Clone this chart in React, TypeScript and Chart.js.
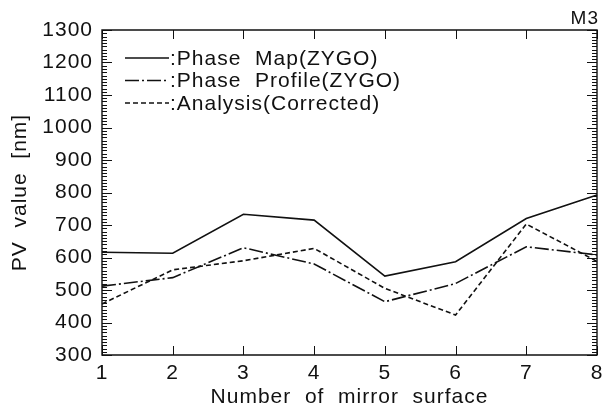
import React, { useEffect, useRef } from "react";
import { Chart, registerables } from "chart.js";

Chart.register(...registerables);

const surfaces = ["1", "2", "3", "4", "5", "6", "7", "8"];
const phaseMap = [616, 613, 733, 715, 543, 587, 720, 792];
const phaseProfile = [512, 538, 630, 580, 464, 520, 633, 608];
const analysis = [457, 562, 590, 628, 505, 423, 703, 588];
const seriesNames = [":Phase  Map(ZYGO)", ":Phase  Profile(ZYGO)", ":Analysis(Corrected)"];
const yMin = 300;
const yMax = 1300;
const panelTag = "M3";

const FONT = "'Liberation Sans', Arial, Helvetica, sans-serif";
const INK = "#111";

// Slightly tracked lettering for every text on the canvas
const spacingPlugin = {
  id: "spacing",
  beforeDraw(chart: any) {
    chart.ctx.letterSpacing = "1px";
  },
};

// Inward ticks on all four sides, legend and panel tag
const framePlugin = {
  id: "frame",
  afterDraw(chart: any) {
    const { ctx, chartArea: a, scales } = chart;
    const x = scales.x;
    const y = scales.y;
    ctx.save();
    ctx.strokeStyle = INK;
    ctx.lineWidth = 1.4;
    ctx.beginPath();
    ctx.rect(a.left, a.top, a.right - a.left, a.bottom - a.top);
    ctx.stroke();

    ctx.lineWidth = 1;
    ctx.beginPath();
    for (let v = yMin; v <= yMax; v += 10) {
      const py = Math.round(y.getPixelForValue(v)) + 0.5;
      const major = v % 100 === 0;
      const len = major ? 10 : 5;
      ctx.moveTo(a.left, py);
      ctx.lineTo(a.left + len, py);
      ctx.moveTo(a.right, py);
      ctx.lineTo(a.right - len, py);
    }
    surfaces.forEach((_, i) => {
      const px = Math.round(x.getPixelForValue(i)) + 0.5;
      ctx.moveTo(px, a.bottom);
      ctx.lineTo(px, a.bottom - 9);
      ctx.moveTo(px, a.top);
      ctx.lineTo(px, a.top + 9);
    });
    ctx.stroke();

    // legend
    const rows = [58, 80.5, 103];
    chart.data.datasets.forEach((ds: any, i: number) => {
      ctx.setLineDash(ds.borderDash || []);
      ctx.lineWidth = ds.borderWidth;
      ctx.beginPath();
      ctx.moveTo(125, rows[i]);
      ctx.lineTo(169, rows[i]);
      ctx.stroke();
    });
    ctx.setLineDash([]);
    ctx.fillStyle = INK;
    ctx.font = `21px ${FONT}`;
    ctx.textBaseline = "middle";
    ctx.textAlign = "left";
    seriesNames.forEach((n, i) => ctx.fillText(n, 170, rows[i] + 1));

    ctx.font = `19px ${FONT}`;
    ctx.textAlign = "right";
    ctx.fillText(panelTag, 599, 19);
    ctx.restore();
  },
};

export default function App() {
  const ref = useRef<HTMLCanvasElement>(null);
  useEffect(() => {
    document.body.style.margin = "0";
    const chart = new Chart(ref.current as HTMLCanvasElement, {
      type: "line",
      data: {
        labels: surfaces,
        datasets: [
          { label: seriesNames[0], data: phaseMap, borderColor: INK, borderWidth: 1.6, pointRadius: 0, borderDash: [] },
          { label: seriesNames[1], data: phaseProfile, borderColor: INK, borderWidth: 1.6, pointRadius: 0, borderDash: [14, 3, 2, 3] },
          { label: seriesNames[2], data: analysis, borderColor: INK, borderWidth: 1.6, pointRadius: 0, borderDash: [5, 3] },
        ],
      },
      options: {
        animation: false,
        responsive: false,
        devicePixelRatio: 1,
        layout: { padding: { left: 0, top: 30, right: 18, bottom: 0 } },
        plugins: { legend: { display: false }, tooltip: { enabled: false } },
        scales: {
          x: {
            type: "category",
            offset: false,
            grid: { display: false, drawTicks: false },
            border: { display: false },
            ticks: { color: INK, font: { family: FONT, size: 21 }, padding: 6, maxRotation: 0 },
            title: { display: true, text: "Number  of  mirror  surface", color: INK, font: { family: FONT, size: 21 }, padding: { top: 0, bottom: 1 } },
            afterFit: (s: any) => { s.height = 56; },
          },
          y: {
            min: yMin,
            max: yMax,
            grid: { display: false, drawTicks: false },
            border: { display: false },
            ticks: { stepSize: 100, color: INK, font: { family: FONT, size: 21 }, padding: 9, callback: (v: any) => String(v) },
            title: { display: true, text: "PV  value  [nm]", color: INK, font: { family: FONT, size: 21 }, padding: { top: 8, bottom: 0 } },
            afterFit: (s: any) => { s.width = 102; },
          },
        },
      },
      plugins: [spacingPlugin, framePlugin],
    });
    return () => chart.destroy();
  }, []);
  return (
    <div style={{ position: "absolute", left: 0, top: 0, width: 615, height: 411, background: "#fff" }}>
      <canvas ref={ref} width={615} height={411} />
    </div>
  );
}
